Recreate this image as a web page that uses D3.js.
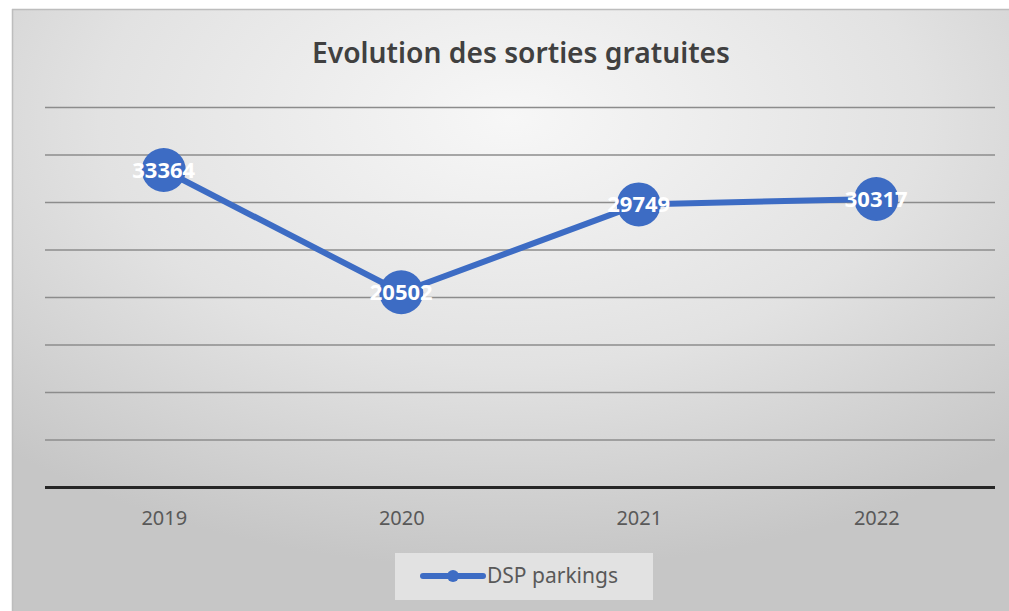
<!DOCTYPE html>
<html>
<head>
<meta charset="utf-8">
<script src="https://cdn.jsdelivr.net/npm/d3@7"></script>
<style>
  body { margin: 0; background: #fff; }
  svg { display: block; }
  text { font-family: "Noto Sans", "Open Sans", sans-serif; }
</style>
</head>
<body>
<svg id="chart"></svg>
<script>
const years = ["2019", "2020", "2021", "2022"];
const sorties = [33364, 20502, 29749, 30317];
const yTicks = [0, 5000, 10000, 15000, 20000, 25000, 30000, 35000, 40000];
const seriesName = "DSP parkings";
const titleText = "Evolution des sorties gratuites";

const width = 1009, height = 611;
const blue = "#3d6cc4";

const svg = d3.select("#chart").attr("width", width).attr("height", height);

// fond dégradé
const defs = svg.append("defs");
const grad = defs.append("radialGradient")
  .attr("id", "bg")
  .attr("cx", "50%").attr("cy", "18%")
  .attr("r", "75%");
grad.append("stop").attr("offset", "0%").attr("stop-color", "#f7f7f7");
grad.append("stop").attr("offset", "55%").attr("stop-color", "#e2e2e2");
grad.append("stop").attr("offset", "100%").attr("stop-color", "#c6c6c6");

svg.append("rect")
  .attr("x", 12).attr("y", 9)
  .attr("width", width - 12).attr("height", height - 9)
  .attr("fill", "url(#bg)");
// petite ombre en haut
svg.append("line")
  .attr("x1", 12).attr("x2", width).attr("y1", 9.5).attr("y2", 9.5)
  .attr("stroke", "#bdbdbd").attr("stroke-width", 1.5);
svg.append("line")
  .attr("x1", 12.5).attr("x2", 12.5).attr("y1", 9).attr("y2", height)
  .attr("stroke", "#bdbdbd").attr("stroke-width", 1.5);

const margin = { left: 45, right: 14, top: 107, bottom: 124 };
const plotW = width - margin.left - margin.right;
const plotH = height - margin.top - margin.bottom;

const x = d3.scalePoint().domain(years).range([0, plotW]).padding(0.5);
const y = d3.scaleLinear().domain([0, 40000]).range([plotH, 0]);

const g = svg.append("g").attr("transform", `translate(${margin.left},${margin.top})`);

// titre
svg.append("text")
  .attr("x", 521).attr("y", 63)
  .attr("text-anchor", "middle")
  .attr("font-size", 28)
  .attr("font-weight", 600)
  .attr("fill", "#404040")
  .attr("textLength", 418)
  .attr("lengthAdjust", "spacingAndGlyphs")
  .text(titleText);

// grille
const yAxis = d3.axisLeft(y).tickValues(yTicks).tickSize(-plotW).tickFormat("");
const gy = g.append("g").call(yAxis);
gy.select(".domain").remove();
gy.selectAll(".tick line")
  .attr("stroke", d => d === 0 ? "#262626" : "#8c8c8c")
  .attr("stroke-width", d => d === 0 ? 3 : 1.5);

// axe x
const xAxis = d3.axisBottom(x).tickSize(0).tickPadding(24);
const gx = g.append("g").attr("transform", `translate(0,${plotH})`).call(xAxis);
gx.select(".domain").remove();
gx.selectAll("text")
  .attr("font-size", 20)
  .attr("fill", "#595959")
  .style("font-family", "'Noto Sans', sans-serif");

// courbe
const line = d3.line()
  .x((d, i) => x(years[i]))
  .y(d => y(d));

g.append("path")
  .datum(sorties)
  .attr("d", line)
  .attr("fill", "none")
  .attr("stroke", blue)
  .attr("stroke-width", 6)
  .attr("stroke-linejoin", "round");

g.selectAll("circle.pt")
  .data(sorties)
  .join("circle")
  .attr("class", "pt")
  .attr("cx", (d, i) => x(years[i]))
  .attr("cy", d => y(d))
  .attr("r", 22)
  .attr("fill", blue);

g.selectAll("text.lbl")
  .data(sorties)
  .join("text")
  .attr("class", "lbl")
  .attr("x", (d, i) => x(years[i]))
  .attr("y", d => y(d))
  .attr("dy", "0.35em")
  .attr("text-anchor", "middle")
  .attr("font-size", 22)
  .attr("font-weight", 700)
  .attr("fill", "#ffffff")
  .text(d => d);

// légende
const leg = svg.append("g").attr("transform", "translate(395,553)");
leg.append("rect")
  .attr("width", 258).attr("height", 47)
  .attr("fill", "#ebebeb").attr("fill-opacity", 0.75);
leg.append("line")
  .attr("x1", 28).attr("x2", 88).attr("y1", 23).attr("y2", 23)
  .attr("stroke", blue).attr("stroke-width", 6).attr("stroke-linecap", "round");
leg.append("circle")
  .attr("cx", 58).attr("cy", 23).attr("r", 6).attr("fill", blue);
leg.append("text")
  .attr("x", 92).attr("y", 23).attr("dy", "0.35em")
  .attr("font-size", 21)
  .attr("fill", "#595959")
  .text(seriesName);
</script>
</body>
</html>
